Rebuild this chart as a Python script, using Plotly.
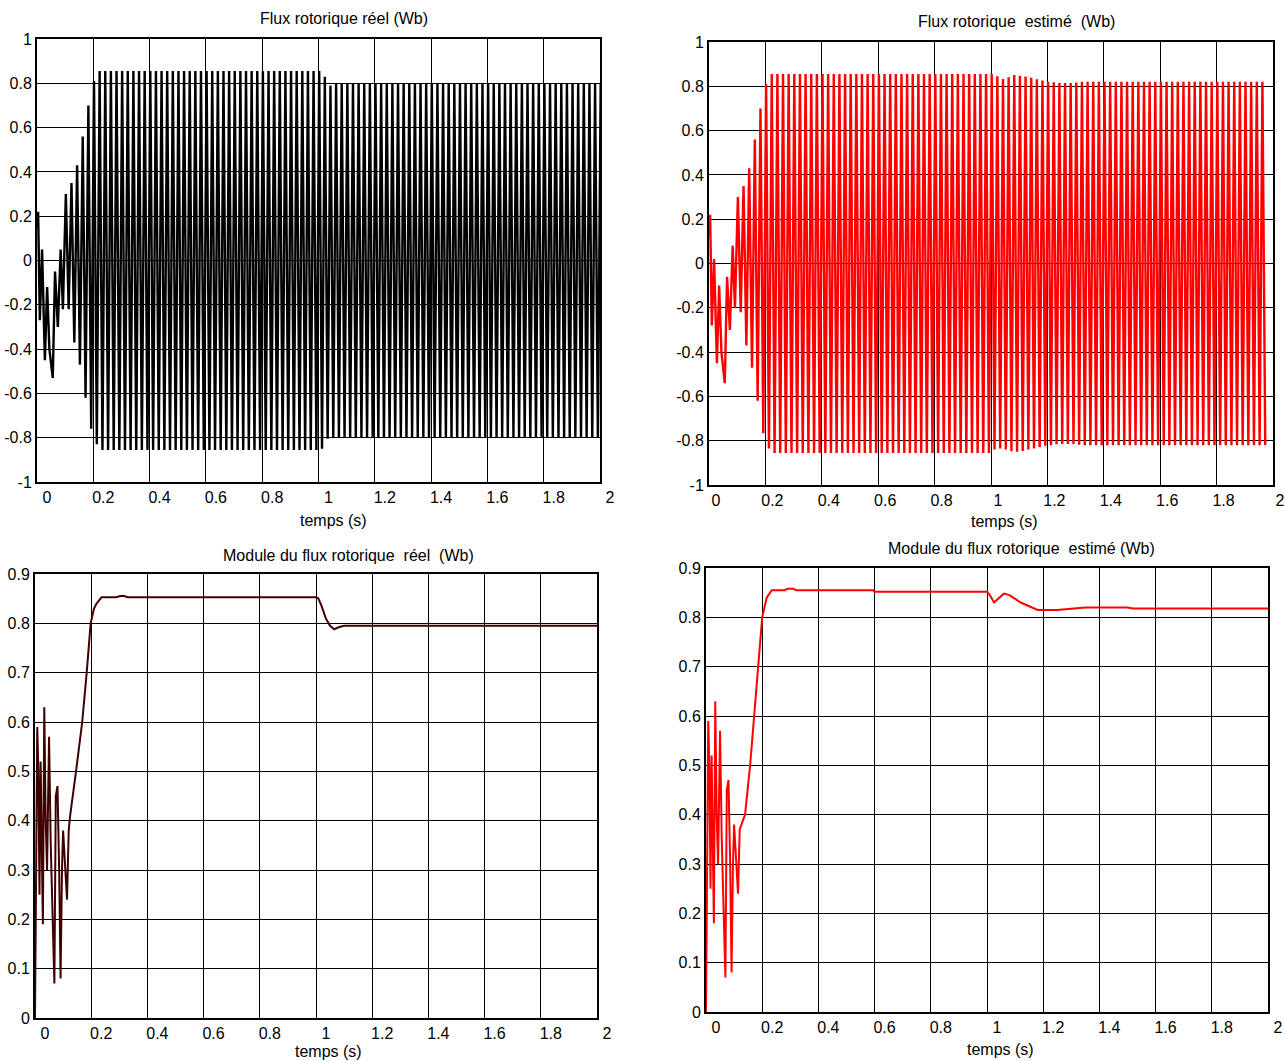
import plotly.graph_objects as go

W, H = 1285, 1061
FONT = "Arial, 'Liberation Sans', sans-serif"

# ---------------- data ----------------
# X axis ticks (time, s)
x_ticks = [0, 0.2, 0.4, 0.6, 0.8, 1.0, 1.2, 1.4, 1.6, 1.8, 2.0]
x_ticktext = ["0", "0.2", "0.4", "0.6", "0.8", "1", "1.2", "1.4", "1.6", "1.8", "2"]
top_y_ticks = [-1, -0.8, -0.6, -0.4, -0.2, 0, 0.2, 0.4, 0.6, 0.8, 1]
top_y_ticktext = ["-1", "-0.8", "-0.6", "-0.4", "-0.2", "0", "0.2", "0.4", "0.6", "0.8", "1"]
bot_y_ticks = [0, 0.1, 0.2, 0.3, 0.4, 0.5, 0.6, 0.7, 0.8, 0.9]
bot_y_ticktext = ["0", "0.1", "0.2", "0.3", "0.4", "0.5", "0.6", "0.7", "0.8", "0.9"]

# Top plots: irregular start-up, read point by point
real_start_t = [0.000, 0.004, 0.010, 0.018, 0.028, 0.036, 0.044, 0.056, 0.064, 0.074, 0.084, 0.092]
real_start_v = [0.15, 0.22, -0.27, 0.05, -0.45, -0.12, -0.40, -0.53, -0.05, -0.30, 0.05, -0.22]
est_start_t = [0.000, 0.004, 0.010, 0.018, 0.028, 0.036, 0.044, 0.056, 0.064, 0.074, 0.084, 0.092]
est_start_v = [0.12, 0.22, -0.28, 0.02, -0.45, -0.10, -0.40, -0.54, -0.06, -0.30, 0.08, -0.20]

# then successive extremes (peak, trough, peak ...), one every half period of the 50 Hz flux
first_extreme_t = 0.1025
half_period = 0.01
# magnitudes of the extremes, sign alternating (+, -, +, ...) ; runs = (magnitude, count)
real_extremes = [(0.30, 1), (0.22, 1), (0.35, 1), (0.37, 1), (0.43, 1), (0.47, 1), (0.56, 1),
                 (0.62, 1), (0.70, 1), (0.76, 1), (0.81, 1), (0.83, 1),
                 (0.855, 79),
                 (0.85, 1), (0.83, 1), (0.805, 1), (0.79, 1),
                 (0.80, 96)]
est_extremes = [(0.30, 1), (0.22, 1), (0.35, 1), (0.37, 1), (0.43, 1), (0.47, 1), (0.56, 1),
                (0.62, 1), (0.70, 1), (0.766, 1), (0.81, 1), (0.835, 1),
                (0.855, 79),
                (0.84, 1), (0.845, 1), (0.835, 1), (0.833, 1), (0.84, 1), (0.841, 1), (0.848, 1),
                (0.851, 1), (0.85, 1), (0.848, 1), (0.846, 1), (0.844, 1), (0.84, 1), (0.838, 1),
                (0.835, 1), (0.832, 1), (0.829, 1), (0.826, 1), (0.823, 1), (0.821, 1), (0.82, 1),
                (0.818, 1), (0.816, 1), (0.815, 6), (0.817, 1), (0.818, 1), (0.82, 1),
                (0.82, 65)]

# Bottom plots: flux modulus
mod_real_t = [0.000, 0.003, 0.008, 0.012, 0.016, 0.020, 0.024, 0.028, 0.033, 0.038, 0.043,
              0.050, 0.056, 0.062, 0.069, 0.074, 0.080, 0.086, 0.091, 0.096, 0.100, 0.106,
              0.110, 0.114, 0.120, 0.125, 0.146, 0.168, 0.184, 0.198, 0.210, 0.219,
              0.237, 0.290, 0.300, 0.314, 0.330, 0.600, 1.000, 1.008, 1.020, 1.035, 1.050,
              1.065, 1.080, 1.100, 1.300, 2.000]
mod_real_v = [0.00, 0.30, 0.59, 0.50, 0.25, 0.52, 0.35, 0.19, 0.63, 0.40, 0.30,
              0.57, 0.35, 0.20, 0.07, 0.45, 0.47, 0.30, 0.08, 0.30, 0.38, 0.32,
              0.28, 0.24, 0.38, 0.41, 0.50, 0.60, 0.70, 0.80, 0.83, 0.84,
              0.853, 0.853, 0.855, 0.856, 0.853, 0.853, 0.853, 0.851, 0.835, 0.810, 0.795,
              0.788, 0.792, 0.795, 0.795, 0.795]
mod_est_t = [0.000, 0.003, 0.008, 0.012, 0.016, 0.020, 0.024, 0.028, 0.033, 0.038, 0.043,
             0.050, 0.056, 0.062, 0.069, 0.074, 0.080, 0.086, 0.091, 0.096, 0.100, 0.106,
             0.110, 0.114, 0.120, 0.139, 0.157, 0.171, 0.184, 0.200, 0.216, 0.234,
             0.280, 0.290, 0.311, 0.320, 0.595, 0.600, 1.000, 1.010, 1.025, 1.040, 1.060,
             1.080, 1.120, 1.180, 1.250, 1.350, 1.500, 1.520, 2.000]
mod_est_v = [0.00, 0.30, 0.59, 0.50, 0.25, 0.52, 0.35, 0.18, 0.63, 0.40, 0.30,
             0.57, 0.35, 0.20, 0.07, 0.45, 0.47, 0.30, 0.08, 0.30, 0.38, 0.32,
             0.28, 0.24, 0.37, 0.40, 0.50, 0.60, 0.70, 0.80, 0.84, 0.855,
             0.855, 0.858, 0.858, 0.855, 0.855, 0.852, 0.852, 0.845, 0.830, 0.838, 0.848,
             0.845, 0.830, 0.815, 0.815, 0.820, 0.820, 0.818, 0.818]


def build_wave(start_t, start_v, t0, dt, runs):
    t = list(start_t)
    v = list(start_v)
    k = 0
    for mag, n in runs:
        for _ in range(n):
            t.append(t0 + k * dt)
            v.append(mag if k % 2 == 0 else -mag)
            k += 1
    return t, v


real_t, real_v = build_wave(real_start_t, real_start_v, first_extreme_t, half_period, real_extremes)
est_t, est_v = build_wave(est_start_t, est_start_v, first_extreme_t, half_period, est_extremes)

# ---------------- figure ----------------
fig = go.Figure()

fig.add_trace(go.Scatter(x=real_t, y=real_v, mode="lines", line=dict(color="#000000", width=2.4),
                         xaxis="x", yaxis="y", showlegend=False))
fig.add_trace(go.Scatter(x=est_t, y=est_v, mode="lines", line=dict(color="#ff0000", width=2.4),
                         xaxis="x2", yaxis="y2", showlegend=False))
fig.add_trace(go.Scatter(x=mod_real_t, y=mod_real_v, mode="lines", line=dict(color="#400000", width=2),
                         xaxis="x3", yaxis="y3", showlegend=False))
fig.add_trace(go.Scatter(x=mod_est_t, y=mod_est_v, mode="lines", line=dict(color="#ff0000", width=2),
                         xaxis="x4", yaxis="y4", showlegend=False))


def px_dom_x(a, b):
    return [a / W, b / W]


def px_dom_y(top, bottom):
    return [1 - bottom / H, 1 - top / H]


axis_common = dict(showgrid=True, gridcolor="#000000", gridwidth=1, zeroline=False,
                   showline=True, linecolor="#000000", linewidth=2, mirror=True, ticks="",
                   tickfont=dict(family=FONT, size=16, color="#000000"), fixedrange=True,
                   automargin=False)


def xax(dom, anchor, shift=10):
    return dict(axis_common, domain=dom, anchor=anchor, range=[0, 2], tickmode="array",
                tickvals=x_ticks, ticktext=x_ticktext, ticklabelshift=shift, ticklabelstandoff=0,
                ticklabeloverflow="allow")


def yax(dom, anchor, ticks, text, rng):
    return dict(axis_common, domain=dom, anchor=anchor, range=rng, tickmode="array",
                tickvals=ticks, ticktext=text, ticklabelstandoff=0)


panels = {
    "TL": (37, 600, 39, 482),
    "TR": (709, 1273, 42, 485),
    "BL": (35, 597, 574, 1018),
    "BR": (706, 1268, 568, 1012),
}

fig.update_layout(
    width=W, height=H, margin=dict(l=0, r=0, t=0, b=0, pad=0, autoexpand=False),
    paper_bgcolor="white", plot_bgcolor="white",
    xaxis=xax(px_dom_x(*panels["TL"][:2]), "y"),
    yaxis=yax(px_dom_y(*panels["TL"][2:]), "x", top_y_ticks, top_y_ticktext, [-1, 1]),
    xaxis2=xax(px_dom_x(*panels["TR"][:2]), "y2", shift=7),
    yaxis2=yax(px_dom_y(*panels["TR"][2:]), "x2", top_y_ticks, top_y_ticktext, [-1, 1]),
    xaxis3=xax(px_dom_x(*panels["BL"][:2]), "y3"),
    yaxis3=yax(px_dom_y(*panels["BL"][2:]), "x3", bot_y_ticks, bot_y_ticktext, [0, 0.9]),
    xaxis4=xax(px_dom_x(*panels["BR"][:2]), "y4"),
    yaxis4=yax(px_dom_y(*panels["BR"][2:]), "x4", bot_y_ticks, bot_y_ticktext, [0, 0.9]),
)

labels = [
    ("Flux rotorique réel (Wb)", 344, 19),
    ("Flux rotorique \u00a0estimé \u00a0(Wb)", 1016, 21),
    ("Module du flux rotorique \u00a0réel \u00a0(Wb)", 348, 555),
    ("Module du flux rotorique \u00a0estimé (Wb)", 1022, 548),
    ("temps (s)", 333, 520),
    ("temps (s)", 1004, 521),
    ("temps (s)", 328, 1051),
    ("temps (s)", 1000, 1049),
]
for text, x, y in labels:
    fig.add_annotation(text=text, x=x / W, y=1 - y / H, xref="paper", yref="paper",
                       xanchor="center", yanchor="middle", showarrow=False,
                       font=dict(family=FONT, size=16, color="#000000"))

fig.write_html("out.html")
